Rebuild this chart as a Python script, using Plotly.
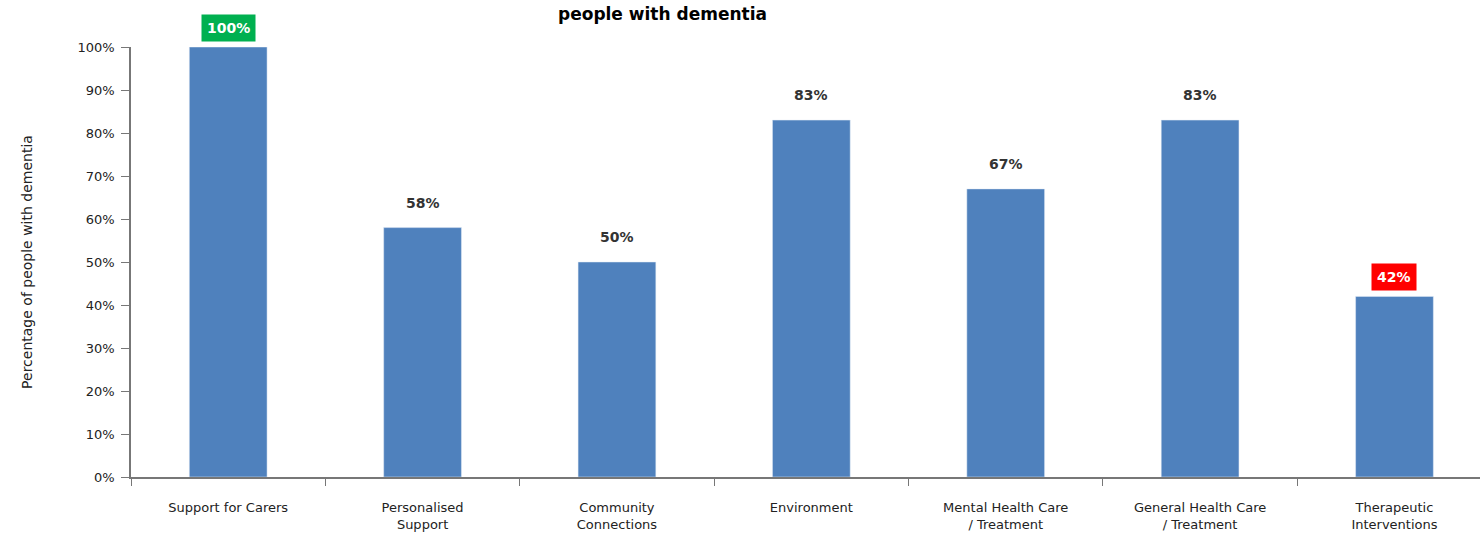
import plotly.graph_objects as go

categories = ["Support for Carers", "Personalised<br>Support", "Community<br>Connections",
              "Environment", "Mental Health Care<br>/ Treatment", "General Health Care<br>/ Treatment",
              "Therapeutic<br>Interventions"]
values = [100, 58, 50, 83, 67, 83, 42]
labels = ["100%", "58%", "50%", "83%", "67%", "83%", "42%"]
label_bg = ["#00B050", None, None, None, None, None, "#FF0000"]
title_text = "people with dementia"

FONT = "DejaVu Sans"

fig = go.Figure()
fig.add_trace(go.Bar(x=list(range(len(categories))), y=values, marker_color="#4F81BD",
                     width=0.4, hoverinfo="skip"))

for i, (v, lab, bg) in enumerate(zip(values, labels, label_bg)):
    if bg:
        fig.add_annotation(x=i, y=v, yshift=19, text="<b>" + lab + "</b>", showarrow=False,
                           font=dict(size=14, color="white", family=FONT),
                           bgcolor=bg, borderpad=5)
    else:
        fig.add_annotation(x=i, y=v, yshift=25, text="<b>" + lab + "</b>", showarrow=False,
                           font=dict(size=14, color="#333333", family=FONT))

fig.add_annotation(x=0.394, xref="paper", y=1.105, yref="paper", yanchor="top",
                   text="<b>" + title_text + "</b>", showarrow=False,
                   font=dict(size=17, color="black", family=FONT))

fig.update_layout(
    width=1480, height=539,
    margin=dict(l=131, r=0, t=47, b=62, autoexpand=False),
    plot_bgcolor="white", paper_bgcolor="white",
    showlegend=False,
    font=dict(family=FONT, size=13, color="#222222"),
)
fig.update_xaxes(range=[-0.5, 6.44], tickmode="array", tickvals=list(range(len(categories))),
                 ticktext=categories, showline=True, linecolor="#777777", linewidth=1.5,
                 ticks="", showgrid=False, tickfont=dict(size=13), ticklabelstandoff=18,
                 automargin=False)
fig.update_xaxes(minor=dict(tickmode="array", tickvals=[i - 0.5 for i in range(len(categories) + 1)],
                            ticks="outside", ticklen=7, tickcolor="#777777", showgrid=False))
fig.update_yaxes(range=[0, 100], tickvals=list(range(0, 101, 10)),
                 ticktext=[f"{t}%" for t in range(0, 101, 10)],
                 showline=True, linecolor="#777777", linewidth=1.5, ticks="outside",
                 ticklen=8, tickcolor="#777777", showgrid=False, tickfont=dict(size=13),
                 ticklabelstandoff=4, automargin=False,
                 title=dict(text="Percentage of people with dementia", font=dict(size=14), standoff=42))

fig.write_html("out.html", config={"displayModeBar": False},
               post_script="document.body.style.margin='0';document.body.style.overflow='hidden';")
